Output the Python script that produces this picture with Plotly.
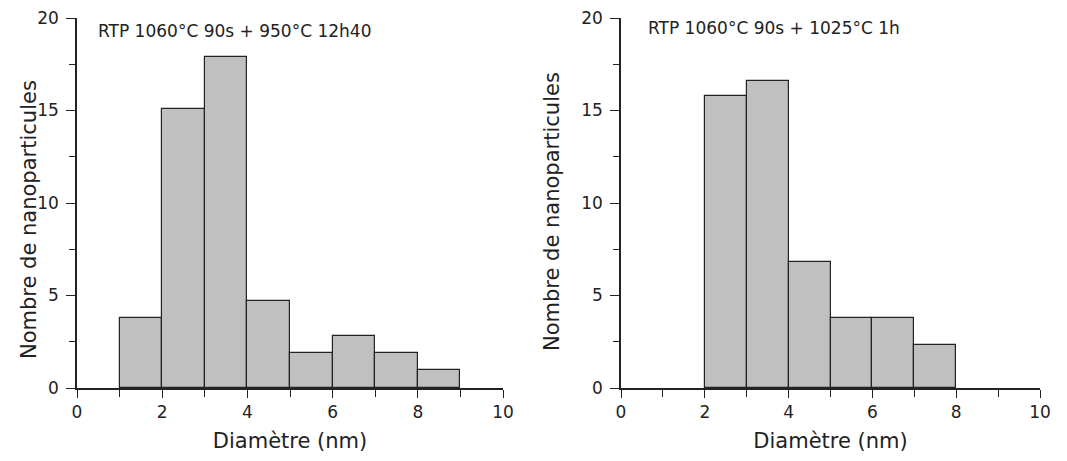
import plotly.graph_objects as go

# Data
bin_edges_left = [1, 2, 3, 4, 5, 6, 7, 8]
counts_left = [3.8, 15.1, 17.9, 4.7, 1.9, 2.8, 1.9, 0.95]
bin_edges_right = [2, 3, 4, 5, 6, 7]
counts_right = [15.8, 16.6, 6.8, 3.8, 3.8, 2.3]
bin_width = 1
title_left = "RTP 1060°C 90s + 950°C 12h40"
title_right = "RTP 1060°C 90s + 1025°C 1h"
xlabel = "Diamètre (nm)"
ylabel = "Nombre de nanoparticules"

# page has an 8px body margin, so the figure is drawn offset by 8px
OFF = 8
W, H = 1067 - OFF, 461 - OFF
ML, MT = 77 - OFF, 18 - OFF
MR = W - (1040 - OFF)
MB = H - (388 - OFF)
PW = W - ML - MR
PH = H - MT - MB
LW, RW = 426, 1040 - 621
FONT = "DejaVu Sans"
TXT = "#222222"

fig = go.Figure()
fig.add_trace(go.Bar(x=bin_edges_left, y=counts_left, width=bin_width, offset=0,
                     marker=dict(color="#c0c0c0", line=dict(color="#222222", width=1.2)),
                     xaxis="x", yaxis="y", showlegend=False))
fig.add_trace(go.Bar(x=bin_edges_right, y=counts_right, width=bin_width, offset=0,
                     marker=dict(color="#c0c0c0", line=dict(color="#222222", width=1.2)),
                     xaxis="x2", yaxis="y2", showlegend=False))

def xax(dom, anchor):
    return dict(domain=dom, anchor=anchor, range=[0, 10], tickvals=[0, 2, 4, 6, 8, 10],
                automargin=False, ticklabeloverflow="allow",
                ticks="outside", ticklen=8, tickwidth=1.4, tickcolor=TXT,
                showline=True, linecolor=TXT, linewidth=1.5, showgrid=False, zeroline=False,
                minor=dict(dtick=1, ticks="outside", ticklen=7, tickwidth=1.4, tickcolor=TXT),
                tickfont=dict(family=FONT, size=17, color=TXT),
                title=dict(text=xlabel, font=dict(family=FONT, size=21, color=TXT), standoff=12))

def yax(anchor):
    return dict(domain=[0, 1], anchor=anchor, range=[0, 20], tickvals=[0, 5, 10, 15, 20],
                automargin=False, ticklabeloverflow="allow", ticklabelstandoff=4,
                ticks="outside", ticklen=9, tickwidth=1.4, tickcolor=TXT,
                showline=True, linecolor=TXT, linewidth=1.5, showgrid=False, zeroline=False,
                minor=dict(dtick=2.5, ticks="outside", ticklen=6, tickwidth=1.4, tickcolor=TXT),
                tickfont=dict(family=FONT, size=17, color=TXT))

def ytitle(xref, yref, px_offset, width, y_center_px):
    return dict(text=ylabel, xref=xref, yref=yref, x=-px_offset / width,
                y=(388 - y_center_px) / PH,
                xanchor="center", yanchor="middle", textangle=-90, showarrow=False,
                font=dict(family=FONT, size=21, color=TXT))

fig.update_layout(
    width=W, height=H,
    margin=dict(l=ML, r=MR, t=MT, b=MB),
    paper_bgcolor="white", plot_bgcolor="white",
    bargap=0,
    xaxis=xax([0, LW / PW], "y"),
    yaxis=yax("x"),
    xaxis2=xax([(621 - OFF - ML) / PW, 1], "y2"),
    yaxis2=yax("x2"),
    annotations=[
        dict(text=title_left, xref="x domain", yref="y domain", x=0.045, y=0.965,
             xanchor="left", yanchor="middle", showarrow=False,
             font=dict(family=FONT, size=17, color=TXT)),
        dict(text=title_right, xref="x2 domain", yref="y2 domain", x=0.06, y=0.972,
             xanchor="left", yanchor="middle", showarrow=False,
             font=dict(family=FONT, size=17, color=TXT)),
        ytitle("x domain", "y domain", 77 - 29, LW, 220),
        ytitle("x2 domain", "y2 domain", 621 - 552, RW, 212),
    ],
)

fig.write_html("out.html")
